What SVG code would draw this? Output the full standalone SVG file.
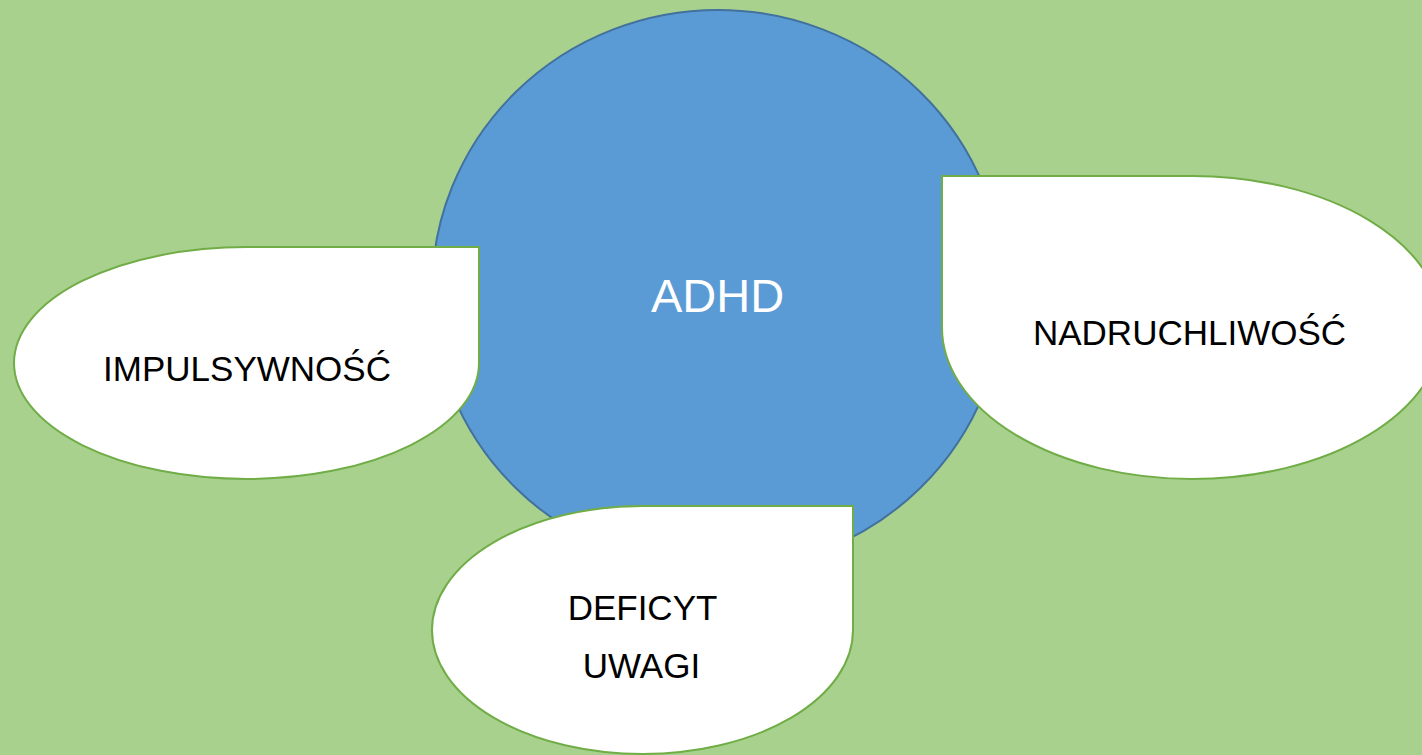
<svg xmlns="http://www.w3.org/2000/svg" width="1422" height="755" viewBox="0 0 1422 755">
  <style>
    .bubble { fill: #ffffff; stroke: #70ad47; stroke-width: 2; }
    .lbl { font-family: "Liberation Sans", Arial, sans-serif; font-size: 35px; fill: #000000; text-anchor: middle; }
  </style>
  <rect x="0" y="0" width="1422" height="755" fill="#a9d18e"/>
  <g id="adhd">
    <ellipse cx="718" cy="290" rx="286" ry="280" fill="#5b9bd5" stroke="#41719c" stroke-width="2"/>
    <text x="717.5" y="312" font-family="'Liberation Sans', Arial, sans-serif" font-size="47" fill="#ffffff" text-anchor="middle">ADHD</text>
  </g>
  <g id="connectors"></g>
  <g id="impulsywnosc">
    <path class="bubble" d="M 14 363 A 232.5 116 0 0 1 246.5 247 L 479 247 L 479 363 A 232.5 116 0 0 1 246.5 479 A 232.5 116 0 0 1 14 363 Z"/>
    <text class="lbl" x="247" y="381">IMPULSYWNOŚĆ</text>
  </g>
  <g id="nadruchliwosc">
    <path class="bubble" d="M 942 176 L 1192.3 176 A 250.3 151.5 0 0 1 1442.6 327.5 A 250.3 151.5 0 0 1 1192.3 479 A 250.3 151.5 0 0 1 942 327.5 Z"/>
    <text class="lbl" x="1189.5" y="345">NADRUCHLIWOŚĆ</text>
  </g>
  <g id="deficyt-uwagi">
    <path class="bubble" d="M 432 630 A 210.5 124 0 0 1 642.5 506 L 853 506 L 853 630 A 210.5 124 0 0 1 642.5 754 A 210.5 124 0 0 1 432 630 Z"/>
    <text class="lbl" x="642.5" y="620">DEFICYT</text>
    <text class="lbl" x="641.5" y="678">UWAGI</text>
  </g>
</svg>
